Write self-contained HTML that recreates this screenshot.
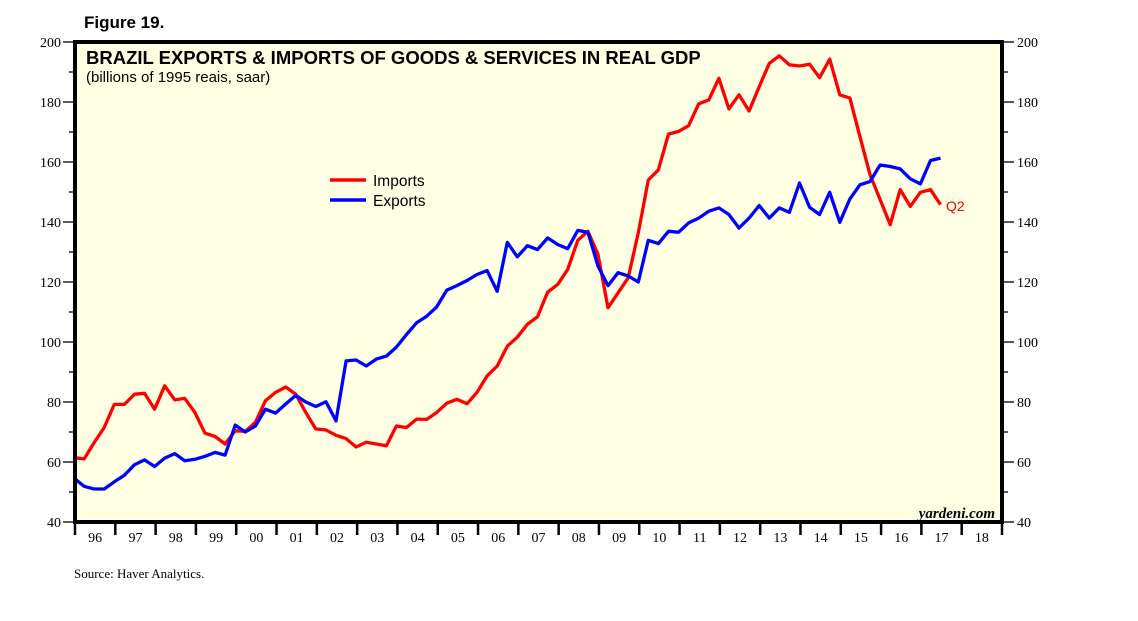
<!DOCTYPE html>
<html><head><meta charset="utf-8"><style>
body{margin:0;background:#fff;}
svg{display:block;font-family:"Liberation Sans",sans-serif;}
.ser{font-family:"Liberation Serif",serif;}
</style></head><body>
<svg id="chart" width="1138" height="621" viewBox="0 0 1138 621">
<text x="84" y="28" font-size="17" font-weight="bold">Figure 19.</text>
<rect x="75" y="42" width="927" height="480" fill="#FFFFE4"/>
<g id="grid"></g>
<text x="86" y="64" font-size="18.5" font-weight="bold">BRAZIL EXPORTS &amp; IMPORTS OF GOODS &amp; SERVICES IN REAL GDP</text>
<text x="86" y="82" font-size="15">(billions of 1995 reais, saar)</text>
<g id="series"></g>
<g>
<line x1="330" y1="180" x2="366" y2="180" stroke="#ff0000" stroke-width="3.5"/>
<text x="373" y="186" font-size="15.5">Imports</text>
<line x1="330" y1="200" x2="366" y2="200" stroke="#0000ff" stroke-width="3.5"/>
<text x="373" y="206" font-size="15.5">Exports</text>
</g>
<text x="946" y="211" font-size="14" fill="#ff0000">Q2</text>
<text x="995" y="518" font-size="15" font-style="italic" font-weight="bold" text-anchor="end" class="ser">yardeni.com</text>
<text x="74" y="578" font-size="13" class="ser">Source: Haver Analytics.</text>
<g id="axes"></g>
</svg>
<script>
const years = ["96","97","98","99","00","01","02","03","04","05","06","07","08","09","10","11","12","13","14","15","16","17","18"];
const yTicks = [40,60,80,100,120,140,160,180,200];
const imports = [61.5,61,66.5,71.5,79.2,79.2,82.6,82.9,77.6,85.4,80.7,81.2,76.5,69.6,68.5,66,70.4,70.2,73.2,80.4,83.2,85,82.6,76.5,71,70.7,68.9,67.8,65,66.6,66,65.4,72,71.5,74.3,74.2,76.5,79.6,80.9,79.4,83.2,88.7,92,98.6,101.6,105.9,108.4,116.6,119.2,124.2,133.9,136.9,129.2,111.4,116.4,121.4,136.4,154,157.4,169.3,170.2,172.1,179.4,180.7,187.9,177.7,182.4,177,185.1,192.9,195.4,192.4,192,192.6,188.1,194.3,182.4,181.3,168.5,155.8,147.5,139.1,150.8,145.2,149.9,150.8,145.8];
const exports = [54.6,51.9,51,51,53.4,55.6,59.1,60.7,58.5,61.3,62.8,60.4,60.9,61.9,63.2,62.3,72.3,70,72,77.6,76.3,79.3,82.2,80,78.5,80.1,73.7,93.7,94,92,94.3,95.3,98.3,102.5,106.4,108.6,111.7,117.3,118.8,120.5,122.5,123.8,116.9,133.2,128.4,132.1,130.8,134.7,132.5,131.1,137.2,136.6,125.3,118.8,123.1,122,120,133.9,132.8,136.9,136.6,139.7,141.3,143.6,144.7,142.5,138,141.3,145.5,141.3,144.7,143.2,153,144.9,142.5,149.9,139.9,147.7,152.4,153.5,159,158.5,157.7,154.4,152.7,160.5,161.3];
const X0=75, X1=1002, Y0=522, Y1=42, VMIN=40, VMAX=200;
const yearW=(X1-X0)/years.length;
function xq(i){return X0 - yearW/4 + i*yearW/4 + (yearW/4) - 1;} // index 0 = 1995Q4 end ≈ left edge
function yv(v){return Y0-(v-VMIN)*(Y0-Y1)/(VMAX-VMIN);}
const NS="http://www.w3.org/2000/svg";
function mk(t,a,p){const e=document.createElementNS(NS,t);for(const k in a)e.setAttribute(k,a[k]);p.appendChild(e);return e;}
const ser=document.getElementById('series'), ax=document.getElementById('axes');
function line(arr,col,name){
  const d=arr.map((v,i)=>(i?'L':'M')+xq(i).toFixed(1)+','+yv(v).toFixed(1)).join('');
  const p=mk('path',{d:d,fill:'none',stroke:col,'stroke-width':3.3,'stroke-linejoin':'round'},ser);
  
  
}
line(imports,'#ff0000','imports-line');
line(exports,'#0000ff','exports-line');
// frame
const fr=mk('path',{d:`M${X0},${Y0}V${Y1}H${X1}V${Y0}Z`,fill:'none',stroke:'#000','stroke-width':4},ax);


// y ticks
for(let v=VMIN; v<=VMAX; v+=10){
  const y=yv(v), major=v%20===0;
  mk('line',{x1:X0-(major?12:6),y1:y,x2:X0,y2:y,stroke:'#000','stroke-width':1.3},ax);
  mk('line',{x1:X1,y1:y,x2:X1+(major?12:6),y2:y,stroke:'#000','stroke-width':1.3},ax);
}
yTicks.forEach(v=>{
  const y=yv(v);
  const l=mk('text',{x:X0-14,y:y+5,'font-size':14,'text-anchor':'end',class:'ser'},ax);
  l.textContent=v;
  
  
  const r=mk('text',{x:X1+15,y:y+5,'font-size':14,class:'ser'},ax);
  r.textContent=v;
  
  
});
// x ticks
for(let i=0;i<=years.length;i++){
  const x=X0+i*yearW;
  mk('line',{x1:x,y1:Y0,x2:x,y2:Y0+13,stroke:'#000','stroke-width':2.5},ax);
}
years.forEach((yr,i)=>{
  const t=mk('text',{x:X0+(i+0.5)*yearW,y:Y0+20,'font-size':14,'text-anchor':'middle',class:'ser'},ax);
  t.textContent=yr;
  
  
});
</script>
</body></html>
